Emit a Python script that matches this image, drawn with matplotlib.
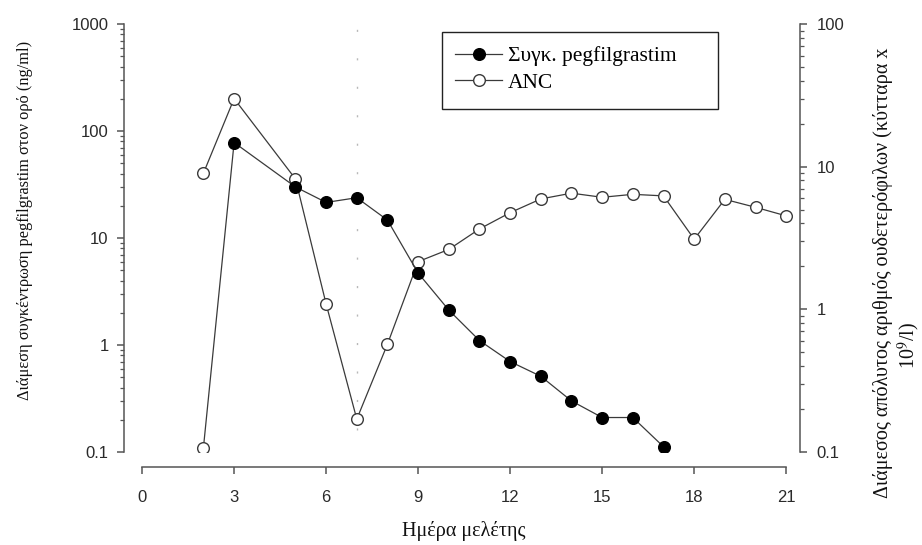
import matplotlib.pyplot as plt
from matplotlib.patches import Rectangle
from matplotlib.lines import Line2D
from matplotlib.ticker import LogLocator, NullFormatter
import numpy as np

# data
peg_days = [2, 3, 5, 6, 7, 8, 9, 10, 11, 12, 13, 14, 15, 16, 17]
peg_conc = [0.11, 78, 30, 21.5, 23.8, 14.7, 4.7, 2.12, 1.10, 0.70, 0.51, 0.30, 0.21, 0.21, 0.112]
peg_open = [True, False, False, False, False, False, False, False,
            False, False, False, False, False, False, False]

anc_days = [2, 3, 5, 6, 7, 8, 9, 10, 11, 12, 13, 14, 15, 16, 17, 18, 19, 20, 21]
anc_vals = [9.0, 30, 8.2, 1.09, 0.17, 0.57, 2.16, 2.63, 3.66, 4.76, 5.94, 6.52,
            6.1, 6.4, 6.24, 3.1, 5.9, 5.19, 4.52]

x_ticks = [0, 3, 6, 9, 12, 15, 18, 21]
left_ticks = [0.1, 1, 10, 100, 1000]
left_labels = ['0.1', '1', '10', '100', '1000']
right_ticks = [0.1, 1, 10, 100]
right_labels = ['0.1', '1', '10', '100']
dose_day = 7

W, H = 922, 545
LINE = '#3a3a3a'
AXC = '#555555'
TXT = '#2a2a2a'
SERIF = ['Liberation Serif', 'DejaVu Serif']
SANS = ['Liberation Sans', 'DejaVu Sans']

plt.rcParams['mathtext.fontset'] = 'stix'


def fx(px):
    return px / W


def fy(py):
    return 1 - py / H


fig = plt.figure(figsize=(W / 100, H / 100), dpi=100)
ax = fig.add_axes([fx(124), fy(452), (800 - 124) / W, (452 - 24) / H])
ax2 = ax.twinx()
ax.set_zorder(ax2.get_zorder() + 1)
ax.patch.set_visible(False)

ax.set_xlim(-0.59, 21.45)
ax.set_yscale('log')
ax.set_ylim(0.1, 1000)
ax2.set_yscale('log')
ax2.set_ylim(0.1, 100)

# dotted reference line at dosing day
ax.vlines(dose_day, 0.16, 1000, colors='#b8b8b8', linewidth=1.0,
          linestyles=(0, (1.5, 19)), zorder=1)

# ANC on right axis
ax2.plot(anc_days, anc_vals, color=LINE, linewidth=0.9, marker='o',
         markersize=8.4, markerfacecolor='white', markeredgecolor=LINE,
         markeredgewidth=1.0, zorder=2)

# pegfilgrastim on left axis
peg_days_a = np.array(peg_days)
peg_conc_a = np.array(peg_conc)
mask_open = np.array(peg_open)
ax.plot(peg_days, peg_conc, color=LINE, linewidth=0.9, zorder=2)
ax.plot(peg_days_a[~mask_open], peg_conc_a[~mask_open], linestyle='none',
        marker='o', markersize=8.4, color='black', zorder=3)
ax.plot(peg_days_a[mask_open], peg_conc_a[mask_open], linestyle='none',
        marker='o', markersize=8.4, markerfacecolor='white',
        markeredgecolor=LINE, markeredgewidth=1.0, zorder=3)

# spines
for s in ['top', 'right']:
    ax.spines[s].set_visible(False)
for s in ['top', 'left', 'bottom']:
    ax2.spines[s].set_visible(False)
ax.spines['bottom'].set_position(('outward', 11))
ax.spines['bottom'].set_bounds(0, 21)
for sp in [ax.spines['left'], ax.spines['bottom'], ax2.spines['right']]:
    sp.set_color(AXC)
    sp.set_linewidth(1.1)

ax.set_xticks(x_ticks)
ax.set_xticklabels([str(t) for t in x_ticks])
ax.set_yticks(left_ticks)
ax.set_yticklabels(left_labels)
ax.yaxis.set_minor_locator(LogLocator(base=10, subs=np.arange(2, 10)))
ax.yaxis.set_minor_formatter(NullFormatter())
ax2.set_yticks(right_ticks)
ax2.set_yticklabels(right_labels)
ax2.yaxis.set_minor_locator(LogLocator(base=10, subs=np.arange(2, 10)))
ax2.yaxis.set_minor_formatter(NullFormatter())

ax.tick_params(axis='x', which='major', direction='out', length=5, width=1.1,
               color=AXC, labelcolor=TXT, labelsize=12, pad=11)
ax.tick_params(axis='y', which='major', direction='out', length=5, width=1.1,
               color=AXC, labelcolor=TXT, labelsize=12, pad=6)
ax.tick_params(axis='y', which='minor', direction='out', length=3, width=0.9,
               color=AXC)
ax2.tick_params(axis='y', which='major', direction='out', length=5, width=1.1,
                color=AXC, labelcolor=TXT, labelsize=12, pad=7)
ax2.tick_params(axis='y', which='minor', direction='out', length=3, width=0.9,
                color=AXC)
for lab in ax.get_xticklabels() + ax.get_yticklabels() + ax2.get_yticklabels():
    lab.set_family(SANS)

# axis titles
fig.text(fx(464), fy(531), 'Ημέρα μελέτης', ha='center', va='center',
         fontsize=14.5, family=SERIF, color='#111111')
fig.text(fx(25), fy(220), 'Διάμεση συγκέντρωση pegfilgrastim στον ορό (ng/ml)',
         rotation=90, ha='center', va='center', fontsize=11.8, family=SERIF,
         color='#111111')
fig.text(fx(883), fy(273), 'Διάμεσος απόλυτος αριθμός ουδετερόφιλων (κύτταρα x',
         rotation=90, ha='center', va='center', fontsize=14.5, family=SERIF,
         color='#111111')
fig.text(fx(909), fy(345), r'10$^{9}$/l)', rotation=90, ha='center',
         va='center', fontsize=14.5, family=SERIF, color='#111111')

# legend
fig.patches.append(Rectangle((fx(442), fy(109)), (718 - 442) / W, (109 - 32) / H,
                             transform=fig.transFigure, facecolor='white',
                             edgecolor='#222222', linewidth=1.0, zorder=5))
h1 = Line2D([], [], color=LINE, linewidth=0.9, marker='o', markersize=8.4,
            markerfacecolor='black', markeredgecolor='black')
h2 = Line2D([], [], color=LINE, linewidth=0.9, marker='o', markersize=8.4,
            markerfacecolor='white', markeredgecolor=LINE, markeredgewidth=1.0)
leg = fig.legend(handles=[h1, h2], labels=['Συγκ. pegfilgrastim', 'ANC'],
                 loc='upper left', bbox_to_anchor=(fx(455), fy(46)),
                 frameon=False, handlelength=2.2, handletextpad=0.25,
                 labelspacing=0.3, borderaxespad=0, borderpad=0,
                 prop={'family': SERIF, 'size': 15.5})
leg.set_zorder(6)

fig.savefig('out.png', dpi=100)
